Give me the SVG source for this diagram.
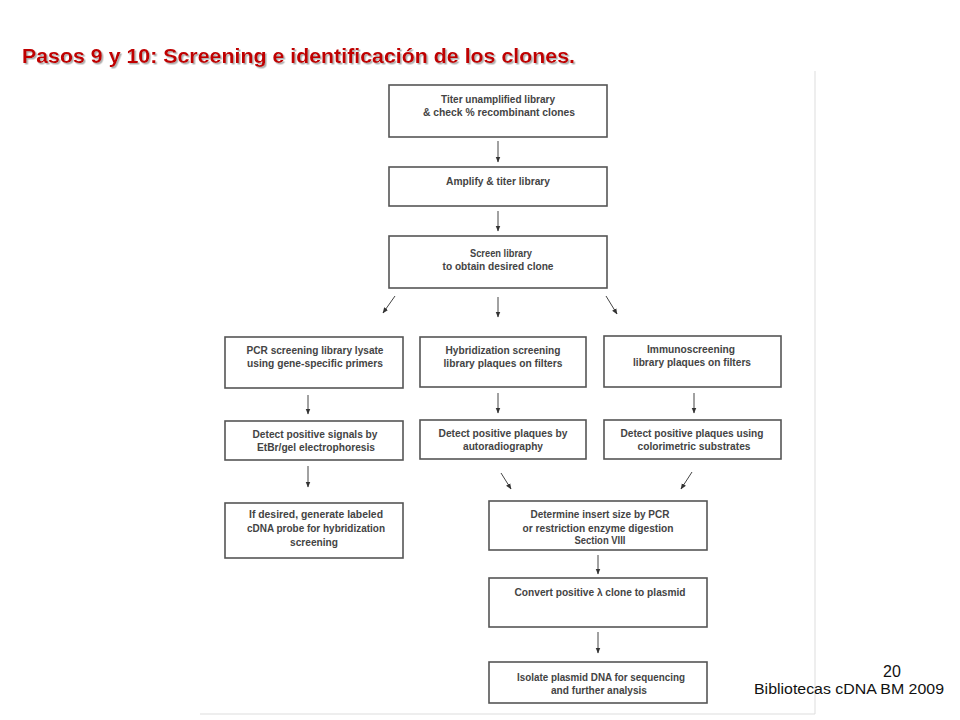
<svg xmlns="http://www.w3.org/2000/svg" width="960" height="720" viewBox="0 0 960 720">
<defs>
<marker id="ah" viewBox="0 0 10 10" refX="9" refY="5" markerWidth="6" markerHeight="6" markerUnits="userSpaceOnUse" orient="auto">
<path d="M0,1 L10,5 L0,9 z" fill="#333"/>
</marker>
<filter id="sh" x="-5%" y="-30%" width="110%" height="160%">
<feDropShadow dx="1.5" dy="1.5" stdDeviation="0.6" flood-color="#999" flood-opacity="0.8"/>
</filter>
<style>
.box{fill:#fff;stroke:#555;stroke-width:1.6}
.t{font-family:"Liberation Sans","DejaVu Sans",sans-serif;font-weight:bold;font-size:11.5px;fill:#444;text-anchor:middle}
.s{font-size:10px}
.c{stroke:#444;stroke-width:1;fill:none;marker-end:url(#ah)}
.frame{stroke:#ddd;stroke-width:1;fill:none}
.ttl{font-family:"Liberation Sans",Arial,sans-serif;font-weight:bold;font-size:19.5px}
.ft{font-family:"Liberation Sans",Arial,sans-serif;fill:#111;text-anchor:middle}
</style>
</defs>
<rect width="960" height="720" fill="#fff"/>
<path class="frame" d="M815,71 V714 H200"/>
<g id="title">
<text class="ttl" x="22" y="63" fill="#c00000" filter="url(#sh)" textLength="553" lengthAdjust="spacingAndGlyphs">Pasos 9 y 10: Screening e identificación de los clones.</text>
</g>
<g id="connectors">
<line class="c" x1="498" y1="141" x2="498" y2="162"/>
<line class="c" x1="498" y1="211" x2="498" y2="231"/>
<line class="c" x1="395" y1="296" x2="383" y2="313"/>
<line class="c" x1="498" y1="297" x2="498" y2="317"/>
<line class="c" x1="606" y1="296" x2="617" y2="314"/>
<line class="c" x1="308" y1="395" x2="308" y2="414"/>
<line class="c" x1="498" y1="393" x2="498" y2="413"/>
<line class="c" x1="694" y1="393" x2="694" y2="413"/>
<line class="c" x1="308" y1="466" x2="308" y2="487"/>
<line class="c" x1="501" y1="473" x2="511" y2="489"/>
<line class="c" x1="692" y1="472" x2="681" y2="489"/>
<line class="c" x1="598" y1="555" x2="598" y2="574"/>
<line class="c" x1="598" y1="632" x2="598" y2="653"/>
</g>
<g id="n1"><rect class="box" x="389" y="85" width="218" height="52"/>
<text class="t" x="498" y="103" textLength="114" lengthAdjust="spacingAndGlyphs">Titer unamplified library</text>
<text class="t" x="499" y="116" textLength="152" lengthAdjust="spacingAndGlyphs">&amp; check % recombinant clones</text></g>
<g id="n2"><rect class="box" x="389" y="167" width="218" height="39"/>
<text class="t" x="498" y="185" textLength="104" lengthAdjust="spacingAndGlyphs">Amplify &amp; titer library</text></g>
<g id="n3"><rect class="box" x="389" y="236" width="218" height="52"/>
<text class="t" x="501" y="257" textLength="62" lengthAdjust="spacingAndGlyphs">Screen library</text>
<text class="t" x="498" y="270" textLength="111" lengthAdjust="spacingAndGlyphs">to obtain desired clone</text></g>
<g id="n4"><rect class="box" x="225" y="337" width="178" height="51"/>
<text class="t" x="315" y="354" textLength="137" lengthAdjust="spacingAndGlyphs">PCR screening library lysate</text>
<text class="t" x="315" y="367" textLength="136" lengthAdjust="spacingAndGlyphs">using gene-specific primers</text></g>
<g id="n5"><rect class="box" x="420" y="337" width="166" height="50"/>
<text class="t" x="503" y="354" textLength="115" lengthAdjust="spacingAndGlyphs">Hybridization screening</text>
<text class="t" x="503" y="367" textLength="119" lengthAdjust="spacingAndGlyphs">library plaques on filters</text></g>
<g id="n6"><rect class="box" x="604" y="336" width="177" height="51"/>
<text class="t" x="691" y="353" textLength="88" lengthAdjust="spacingAndGlyphs">Immunoscreening</text>
<text class="t" x="692" y="366" textLength="118" lengthAdjust="spacingAndGlyphs">library plaques on filters</text></g>
<g id="n7"><rect class="box" x="225" y="421" width="178" height="39"/>
<text class="t" x="315" y="438" textLength="125" lengthAdjust="spacingAndGlyphs">Detect positive signals by</text>
<text class="t" x="316" y="451" textLength="118" lengthAdjust="spacingAndGlyphs">EtBr/gel electrophoresis</text></g>
<g id="n8"><rect class="box" x="420" y="420" width="166" height="39"/>
<text class="t" x="503" y="437" textLength="129" lengthAdjust="spacingAndGlyphs">Detect positive plaques by</text>
<text class="t" x="503" y="450" textLength="80" lengthAdjust="spacingAndGlyphs">autoradiography</text></g>
<g id="n9"><rect class="box" x="604" y="420" width="177" height="39"/>
<text class="t" x="692" y="437" textLength="143" lengthAdjust="spacingAndGlyphs">Detect positive plaques using</text>
<text class="t" x="694" y="450" textLength="113" lengthAdjust="spacingAndGlyphs">colorimetric substrates</text></g>
<g id="n10"><rect class="box" x="225" y="503" width="178" height="55"/>
<text class="t" x="316" y="518" textLength="134" lengthAdjust="spacingAndGlyphs">If desired, generate labeled</text>
<text class="t" x="316" y="532" textLength="138" lengthAdjust="spacingAndGlyphs">cDNA probe for hybridization</text>
<text class="t" x="314" y="546" textLength="48" lengthAdjust="spacingAndGlyphs">screening</text></g>
<g id="n11"><rect class="box" x="489" y="501" width="218" height="49"/>
<text class="t" x="600" y="518" textLength="139" lengthAdjust="spacingAndGlyphs">Determine insert size by PCR</text>
<text class="t" x="598" y="532" textLength="151" lengthAdjust="spacingAndGlyphs">or restriction enzyme digestion</text>
<text class="t s" x="600" y="544" textLength="51" lengthAdjust="spacingAndGlyphs">Section VIII</text></g>
<g id="n12"><rect class="box" x="489" y="578" width="218" height="49"/>
<text class="t" x="600" y="596" textLength="171" lengthAdjust="spacingAndGlyphs">Convert positive λ clone to plasmid</text></g>
<g id="n13"><rect class="box" x="489" y="662" width="218" height="41"/>
<text class="t" x="601" y="681" textLength="168" lengthAdjust="spacingAndGlyphs">Isolate plasmid DNA for sequencing</text>
<text class="t" x="599" y="694" textLength="96" lengthAdjust="spacingAndGlyphs">and further analysis</text></g>
<g id="footer">
<text class="ft" x="892" y="677" font-size="16">20</text>
<text class="ft" x="849" y="694" font-size="14" textLength="190" lengthAdjust="spacingAndGlyphs">Bibliotecas cDNA BM 2009</text>
</g>
</svg>
